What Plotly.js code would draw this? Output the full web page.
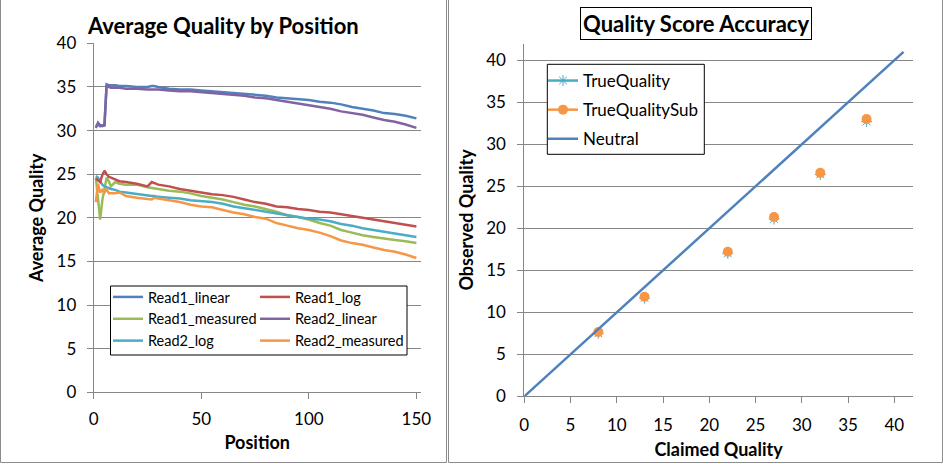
<!DOCTYPE html>
<html>
<head>
<meta charset="utf-8">
<script src="https://cdn.plot.ly/plotly-3.0.1.min.js"></script>
<style>
html, body { margin: 0; padding: 0; background: #fff; }
#chart { width: 943px; height: 464px; }
</style>
</head>
<body>
<div id="chart"></div>
<script>
// Left panel: average quality by read position
var positions      = [1, 2, 3, 4, 5, 6, 7, 8, 10, 12, 15, 20, 25, 27, 28, 30, 35, 40, 45, 50, 55, 60, 65, 70, 75, 80, 85, 90, 95, 100, 105, 110, 115, 120, 125, 130, 135, 140, 145, 150];
var read1_linear   = [30.5, 30.7, 30.5, 30.6, 30.6, 35.3, 35.2, 35.2, 35.2, 35.1, 35.1, 35.0, 35.0, 35.1, 35.1, 35.0, 34.8, 34.7, 34.7, 34.6, 34.5, 34.4, 34.3, 34.2, 34.1, 34.0, 33.8, 33.7, 33.6, 33.5, 33.3, 33.2, 33.0, 32.7, 32.5, 32.3, 32.0, 31.9, 31.7, 31.4];
var read2_linear   = [30.3, 30.9, 30.6, 30.5, 30.6, 35.2, 35.0, 34.9, 34.9, 34.9, 34.8, 34.8, 34.7, 34.7, 34.7, 34.7, 34.6, 34.5, 34.5, 34.4, 34.3, 34.2, 34.1, 34.0, 33.8, 33.7, 33.5, 33.3, 33.1, 32.9, 32.7, 32.5, 32.2, 32.0, 31.8, 31.5, 31.2, 31.0, 30.7, 30.3];
var read1_log      = [24.5, 24.3, 24.1, 24.9, 25.4, 25.0, 24.7, 24.6, 24.4, 24.2, 24.1, 23.9, 23.6, 24.1, 24.0, 23.8, 23.6, 23.3, 23.1, 22.9, 22.7, 22.6, 22.4, 22.1, 21.8, 21.6, 21.3, 21.2, 21.0, 20.9, 20.7, 20.6, 20.4, 20.2, 20.0, 19.8, 19.6, 19.4, 19.2, 19.0];
var read1_measured = [24.6, 22.0, 19.8, 22.0, 23.5, 24.6, 24.2, 23.6, 24.1, 23.9, 23.8, 23.8, 23.5, 23.4, 23.4, 23.3, 23.1, 23.0, 22.8, 22.5, 22.3, 22.1, 21.8, 21.5, 21.3, 21.0, 20.7, 20.3, 20.1, 19.8, 19.4, 19.1, 18.6, 18.3, 18.0, 17.8, 17.6, 17.45, 17.3, 17.1];
var read2_log      = [24.8, 24.6, 24.2, 23.8, 23.6, 23.5, 23.4, 23.3, 23.2, 23.0, 22.9, 22.7, 22.5, 22.5, 22.5, 22.4, 22.3, 22.2, 22.0, 21.9, 21.8, 21.6, 21.3, 21.1, 20.9, 20.7, 20.5, 20.3, 20.1, 19.9, 19.8, 19.6, 19.3, 19.1, 18.8, 18.6, 18.4, 18.2, 18.0, 17.8];
var read2_measured = [21.8, 23.9, 22.9, 23.2, 22.9, 23.3, 22.8, 22.8, 22.8, 22.9, 22.5, 22.3, 22.2, 22.1, 22.3, 22.2, 22.0, 21.8, 21.5, 21.3, 21.2, 20.9, 20.6, 20.4, 20.1, 19.9, 19.4, 19.1, 18.8, 18.6, 18.3, 17.9, 17.4, 17.1, 16.9, 16.6, 16.3, 16.1, 15.8, 15.4];

// Right panel: quality score accuracy
var claimed          = [8, 13, 22, 27, 32, 37];
var true_quality     = [7.5, 11.7, 17.0, 21.1, 26.4, 32.7];
var true_quality_sub = [7.65, 11.85, 17.2, 21.35, 26.6, 33.0];
var neutral_x = [0, 1, 2, 3, 4, 5, 6, 7, 8, 9, 10, 11, 12, 13, 14, 15, 16, 17, 18, 19, 20, 21, 22, 23, 24, 25, 26, 27, 28, 29, 30, 31, 32, 33, 34, 35, 36, 37, 38, 39, 40, 41];
var neutral_y = [0, 1, 2, 3, 4, 5, 6, 7, 8, 9, 10, 11, 12, 13, 14, 15, 16, 17, 18, 19, 20, 21, 22, 23, 24, 25, 26, 27, 28, 29, 30, 31, 32, 33, 34, 35, 36, 37, 38, 39, 40, 41];

var W = 943, H = 464;
var FONT = 'Lato, "Liberation Sans", sans-serif';
var GRID = '#868686';

// pixel helpers, the layout has no margins so paper == pixels
function px(x) { return x / W; }
function py(y) { return 1 - y / H; }

// markers only, but keep a line in the legend like the original
function gapped(arr) {
    var out = [];
    arr.forEach(function(v, i) {
        if (i > 0) out.push(null);
        out.push(v);
    });
    return out;
}

function readTrace(name, ys, color, legend) {
    return {
        x: positions, y: ys, name: name, type: 'scatter', mode: 'lines',
        line: {color: color, width: 2.5},
        xaxis: 'x', yaxis: 'y', legend: legend, legendgroup: name
    };
}

var data = [
    readTrace('Read1_linear', read1_linear, '#4F81BD', 'legend'),
    readTrace('Read1_measured', read1_measured, '#9BBB59', 'legend'),
    readTrace('Read2_log', read2_log, '#4BACC6', 'legend'),
    readTrace('Read1_log', read1_log, '#C0504D', 'legend2'),
    readTrace('Read2_linear', read2_linear, '#8064A2', 'legend2'),
    readTrace('Read2_measured', read2_measured, '#F79646', 'legend2'),
    {
        x: gapped(claimed), y: gapped(true_quality), name: 'TrueQuality',
        type: 'scatter', mode: 'lines+markers', connectgaps: false,
        line: {color: '#4BACC6', width: 2.5},
        marker: {symbol: 'asterisk-open', size: 9, color: '#4BACC6', line: {color: '#4BACC6', width: 1}},
        xaxis: 'x2', yaxis: 'y2', legend: 'legend3', legendgroup: 'tq'
    },
    {
        x: gapped(claimed), y: gapped(true_quality_sub), name: 'TrueQualitySub',
        type: 'scatter', mode: 'lines+markers', connectgaps: false,
        line: {color: '#F79646', width: 2.5},
        marker: {symbol: 'circle', size: 10, color: '#F79646'},
        xaxis: 'x2', yaxis: 'y2', legend: 'legend3', legendgroup: 'tqs'
    },
    {
        x: neutral_x, y: neutral_y, name: 'Neutral', type: 'scatter', mode: 'lines',
        line: {color: '#4F81BD', width: 2.5},
        xaxis: 'x2', yaxis: 'y2', legend: 'legend3', legendgroup: 'neutral'
    }
];

function axisStyle(extra) {
    var ax = {
        showline: true, linecolor: GRID, linewidth: 1,
        ticks: 'outside', ticklen: 6, tickcolor: GRID,
        tickfont: {family: FONT, size: 17, color: '#000'},
        zeroline: false, fixedrange: true
    };
    for (var k in extra) ax[k] = extra[k];
    return ax;
}

var titleFont = {family: FONT, size: 18, color: '#000', weight: 'bold'};

function legendBox(x, y, size, gap) {
    return {
        x: px(x), y: py(y), xanchor: 'left', yanchor: 'top',
        bgcolor: 'rgba(0,0,0,0)', borderwidth: 0,
        font: {family: FONT, size: size, color: '#000'},
        tracegroupgap: gap, orientation: 'v'
    };
}

var layout = {
    width: W, height: H,
    margin: {l: 0, r: 0, t: 0, b: 0},
    paper_bgcolor: '#fff', plot_bgcolor: '#fff',
    font: {family: FONT, color: '#000'},
    showlegend: true,
    xaxis: axisStyle({
        domain: [px(93.7), px(420.7)], range: [0, 152], anchor: 'y',
        tickvals: [0, 50, 100, 150], showgrid: false, ticklabelstandoff: 5,
        title: {text: 'Position', font: titleFont, standoff: 8}
    }),
    yaxis: axisStyle({
        domain: [py(392.3), py(43.3)], range: [0, 40], anchor: 'x',
        dtick: 5, showgrid: true, gridcolor: GRID, ticklabelstandoff: 7,
        title: {text: 'Average Quality', font: titleFont, standoff: 8}
    }),
    xaxis2: axisStyle({
        domain: [px(524.3), px(912.8)], range: [0, 42], anchor: 'y2',
        tickvals: [0, 5, 10, 15, 20, 25, 30, 35, 40], showgrid: false, ticklabelstandoff: 7,
        title: {text: 'Claimed Quality', font: titleFont, standoff: 9}
    }),
    yaxis2: axisStyle({
        domain: [py(396.3), py(43.5)], range: [0, 42], anchor: 'x2',
        tickvals: [0, 5, 10, 15, 20, 25, 30, 35, 40], showgrid: true, gridcolor: GRID, ticklabelstandoff: 8,
        title: {text: 'Observed Quality', font: titleFont, standoff: 7}
    }),
    legend: legendBox(108, 281, 14.5, 0),
    legend2: legendBox(255, 281, 14.5, 0),
    legend3: legendBox(543, 63, 17, 4),
    annotations: [
        {
            text: 'Average Quality by Position', xref: 'paper', yref: 'paper',
            x: px(223), y: py(25), xanchor: 'center', yanchor: 'middle', showarrow: false,
            font: {family: FONT, size: 22, color: '#000', weight: 'bold'}
        },
        {
            text: 'Quality Score Accuracy', xref: 'paper', yref: 'paper',
            x: px(696), y: py(24), xanchor: 'center', yanchor: 'middle', showarrow: false,
            font: {family: FONT, size: 22, color: '#000', weight: 'bold'},
            bordercolor: '#000', borderwidth: 1, borderpad: 2, bgcolor: '#fff'
        }
    ],
    shapes: [
        // panel frames
        {type: 'rect', xref: 'paper', yref: 'paper', x0: px(0.5), x1: px(446.5), y0: py(462.5), y1: py(-2),
         line: {color: '#8c8c8c', width: 1}, layer: 'above'},
        {type: 'rect', xref: 'paper', yref: 'paper', x0: px(448.5), x1: px(942.5), y0: py(462.5), y1: py(-2),
         line: {color: '#8c8c8c', width: 1}, layer: 'above'},
        // legend frames
        {type: 'rect', xref: 'paper', yref: 'paper', x0: px(110.5), x1: px(407), y0: py(355), y1: py(286),
         line: {color: '#000', width: 1}, fillcolor: '#fff', layer: 'above'},
        {type: 'rect', xref: 'paper', yref: 'paper', x0: px(547.3), x1: px(704.3), y0: py(154.3), y1: py(64.3),
         line: {color: '#000', width: 1}, fillcolor: '#fff', layer: 'above'}
    ]
};

Plotly.newPlot(document.getElementById('chart'), data, layout, {displayModeBar: false, staticPlot: true});
</script>
</body>
</html>
